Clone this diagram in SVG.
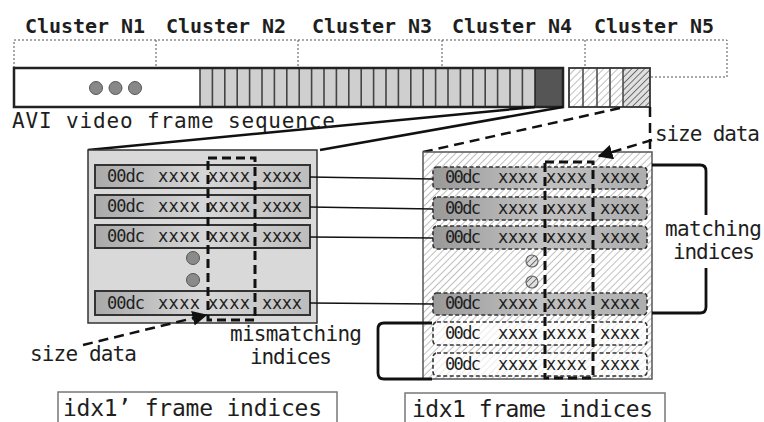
<svg xmlns="http://www.w3.org/2000/svg" width="764" height="422" viewBox="0 0 764 422">
<defs>
<pattern id="hatch" width="5" height="5" patternUnits="userSpaceOnUse" patternTransform="rotate(45)"><rect width="5" height="5" fill="#fff"/><line x1="0" y1="0" x2="0" y2="5" stroke="#aaa" stroke-width="1.5"/></pattern>
<pattern id="hatchD" width="4.5" height="4.5" patternUnits="userSpaceOnUse" patternTransform="rotate(45)"><rect width="4.5" height="4.5" fill="#e0e0e0"/><line x1="0" y1="0" x2="0" y2="4.5" stroke="#555" stroke-width="1.6"/></pattern>
<linearGradient id="rowL" x1="0" y1="0" x2="1" y2="0"><stop offset="0" stop-color="#a9a9a9"/><stop offset="0.5" stop-color="#d6d6d6"/><stop offset="1" stop-color="#bdbdbd"/></linearGradient>
<linearGradient id="rowR" x1="0" y1="0" x2="1" y2="0"><stop offset="0" stop-color="#999"/><stop offset="0.5" stop-color="#c2c2c2"/><stop offset="1" stop-color="#adadad"/></linearGradient>
<marker id="ah" viewBox="0 0 10 10" refX="9" refY="5" markerWidth="6" markerHeight="6" orient="auto"><path d="M0,0 L10,5 L0,10 z" fill="#111"/></marker>
</defs>
<style>
text{font-family:"DejaVu Sans Mono","Liberation Mono",monospace;fill:#1e1e1e}
.cl{font-size:20px;font-weight:bold}
.lbl{font-size:21px}
.big{font-size:23px}
.rt{font-size:17px}
.dot{fill:none;stroke:#555;stroke-width:1;stroke-dasharray:2,2}
.rowl{fill:url(#rowL);stroke:#333;stroke-width:2}
.rowr{fill:url(#rowR);stroke:#333;stroke-width:1.6;stroke-dasharray:4,2.5}
.roww{fill:#fff;fill-opacity:0.7;stroke:#333;stroke-width:1.6;stroke-dasharray:4,2.5}
.col{fill:none;stroke:#111;stroke-width:3;stroke-dasharray:9,5}
.ln{fill:none;stroke:#111;stroke-width:2.5}
.cn{fill:none;stroke:#111;stroke-width:1.6}
.dash{fill:none;stroke:#111;stroke-width:2.5;stroke-dasharray:10,6}
.br{fill:none;stroke:#111;stroke-width:2.8}
.box{fill:#fff;stroke:#777;stroke-width:1.5}
</style>

<g id="clusters">
<path class="dot" d="M14,68 V40 H727 V77 H650 M156,40 V68 M298,40 V68 M442,40 V68 M585,40 V68"/>
<text class="cl" x="25" y="33" textLength="120">Cluster N1</text>
<text class="cl" x="166" y="33" textLength="120">Cluster N2</text>
<text class="cl" x="312" y="33" textLength="120">Cluster N3</text>
<text class="cl" x="452" y="33" textLength="120">Cluster N4</text>
<text class="cl" x="594" y="33" textLength="120">Cluster N5</text>
</g>

<g id="avi-sequence">
<rect x="14" y="68" width="186" height="39" fill="#fff"/>
<rect x="200" y="68" width="335" height="39" fill="#cfcfcf"/>
<path d="M212.4,68V107M224.8,68V107M237.2,68V107M249.6,68V107M262,68V107M274.4,68V107M286.8,68V107M299.2,68V107M311.6,68V107M324,68V107M336.4,68V107M348.8,68V107M361.2,68V107M373.6,68V107M386,68V107M398.4,68V107M410.8,68V107M423.2,68V107M435.6,68V107M448,68V107M460.4,68V107M472.8,68V107M485.2,68V107M497.6,68V107M510,68V107M522.4,68V107" stroke="#444" stroke-width="1.6"/>
<line x1="200" y1="68" x2="200" y2="107" stroke="#444" stroke-width="1.6"/>
<rect x="535" y="68" width="28" height="39" fill="#555" stroke="#222" stroke-width="1.5"/>
<rect x="14" y="68" width="549" height="39" fill="none" stroke="#222" stroke-width="2.5"/>
<circle cx="96" cy="88" r="6.5" fill="#888" stroke="#555"/>
<circle cx="115.5" cy="88" r="6.5" fill="#888" stroke="#555"/>
<circle cx="135" cy="88" r="6.5" fill="#888" stroke="#555"/>
<rect x="569" y="68" width="54" height="39" fill="url(#hatch)"/>
<rect x="623" y="68" width="27" height="39" fill="url(#hatchD)"/>
<path d="M583,68V107M597,68V107M610,68V107M623,68V107" stroke="#444" stroke-width="1.5"/>
<rect x="569" y="68" width="81" height="39" fill="none" stroke="#333" stroke-width="1.8"/>
</g>

<g id="zoom-lines">
<line class="ln" x1="535" y1="107" x2="88" y2="150"/>
<line class="ln" x1="563" y1="107" x2="320" y2="150"/>
<line class="dash" x1="620" y1="108" x2="423" y2="152"/>
<line class="dash" x1="650" y1="107" x2="650" y2="152"/>
</g>

<text class="lbl" x="12" y="128" textLength="323">AVI video frame sequence</text>

<g id="idx1-prime-panel">
<rect x="88" y="150" width="229" height="173" fill="#d9d9d9" stroke="#333" stroke-width="1.5"/>
<rect class="rowl" x="95" y="165" width="215" height="23"/>
<rect class="rowl" x="95" y="195" width="215" height="23"/>
<rect class="rowl" x="95" y="225" width="215" height="23"/>
<rect class="rowl" x="95" y="291" width="215" height="24"/>
<text class="rt" x="107" y="182" textLength="38">00dc</text><text class="rt" x="158" y="182" textLength="42">xxxx</text><text class="rt" x="208" y="182" textLength="42">xxxx</text><text class="rt" x="262" y="182" textLength="40">xxxx</text>
<text class="rt" x="107" y="212" textLength="38">00dc</text><text class="rt" x="158" y="212" textLength="42">xxxx</text><text class="rt" x="208" y="212" textLength="42">xxxx</text><text class="rt" x="262" y="212" textLength="40">xxxx</text>
<text class="rt" x="107" y="242" textLength="38">00dc</text><text class="rt" x="158" y="242" textLength="42">xxxx</text><text class="rt" x="208" y="242" textLength="42">xxxx</text><text class="rt" x="262" y="242" textLength="40">xxxx</text>
<text class="rt" x="107" y="309" textLength="38">00dc</text><text class="rt" x="158" y="309" textLength="42">xxxx</text><text class="rt" x="208" y="309" textLength="42">xxxx</text><text class="rt" x="262" y="309" textLength="40">xxxx</text>
<circle cx="193" cy="258" r="6.5" fill="#8a8a8a" stroke="#555"/>
<circle cx="193" cy="280" r="6.5" fill="#8a8a8a" stroke="#555"/>
<rect class="col" x="208" y="158" width="47" height="162"/>
</g>

<g id="idx1-panel">
<rect x="423" y="152" width="229" height="227" fill="url(#hatch)" stroke="#555" stroke-width="1.5"/>
<rect class="rowr" x="433" y="167" width="214" height="22" rx="4"/>
<rect class="rowr" x="433" y="197" width="214" height="23" rx="4"/>
<rect class="rowr" x="433" y="226" width="214" height="23" rx="4"/>
<rect class="rowr" x="433" y="293" width="214" height="22" rx="4"/>
<rect class="roww" x="433" y="322" width="214" height="23" rx="4"/>
<rect class="roww" x="433" y="353" width="214" height="23" rx="4"/>
<text class="rt" x="445" y="183" textLength="36">00dc</text><text class="rt" x="498" y="183" textLength="40">xxxx</text><text class="rt" x="546" y="183" textLength="41">xxxx</text><text class="rt" x="600" y="183" textLength="40">xxxx</text>
<text class="rt" x="445" y="214" textLength="36">00dc</text><text class="rt" x="498" y="214" textLength="40">xxxx</text><text class="rt" x="546" y="214" textLength="41">xxxx</text><text class="rt" x="600" y="214" textLength="40">xxxx</text>
<text class="rt" x="445" y="243" textLength="36">00dc</text><text class="rt" x="498" y="243" textLength="40">xxxx</text><text class="rt" x="546" y="243" textLength="41">xxxx</text><text class="rt" x="600" y="243" textLength="40">xxxx</text>
<text class="rt" x="445" y="309" textLength="36">00dc</text><text class="rt" x="498" y="309" textLength="40">xxxx</text><text class="rt" x="546" y="309" textLength="41">xxxx</text><text class="rt" x="600" y="309" textLength="40">xxxx</text>
<text class="rt" x="445" y="339" textLength="36">00dc</text><text class="rt" x="498" y="339" textLength="40">xxxx</text><text class="rt" x="546" y="339" textLength="41">xxxx</text><text class="rt" x="600" y="339" textLength="40">xxxx</text>
<text class="rt" x="445" y="370" textLength="36">00dc</text><text class="rt" x="498" y="370" textLength="40">xxxx</text><text class="rt" x="546" y="370" textLength="41">xxxx</text><text class="rt" x="600" y="370" textLength="40">xxxx</text>
<circle cx="532" cy="261" r="6" fill="url(#hatchD)" stroke="#666" stroke-width="1.2"/>
<circle cx="532" cy="282" r="6" fill="url(#hatchD)" stroke="#666" stroke-width="1.2"/>
<rect class="col" x="545" y="162" width="48" height="216"/>
</g>

<g id="connectors">
<line class="cn" x1="310" y1="177" x2="433" y2="179"/>
<line class="cn" x1="310" y1="207" x2="433" y2="209"/>
<line class="cn" x1="310" y1="237" x2="433" y2="238"/>
<line class="cn" x1="310" y1="303" x2="433" y2="304"/>
<path class="br" d="M652,165 H700 Q706,165 706,171 V215 M706,268 V307 Q706,313 700,313 H652"/>
<path class="br" d="M432,323 H384 Q378,323 378,329 V373 Q378,379 384,379 H432"/>
<line class="dash" x1="652" y1="140" x2="599" y2="156" marker-end="url(#ah)"/>
<line class="dash" x1="83" y1="345" x2="206" y2="315" marker-end="url(#ah)"/>
</g>

<g id="labels">
<text class="lbl" x="655" y="141" textLength="105">size data</text>
<text class="lbl" x="30" y="361" textLength="107">size data</text>
<text class="lbl" x="230" y="341" textLength="132">mismatching</text>
<text class="lbl" x="250" y="364" textLength="82">indices</text>
<text class="lbl" x="665" y="236" textLength="97">matching</text>
<text class="lbl" x="673" y="259" textLength="82">indices</text>
</g>

<g id="idx1-prime-label">
<rect class="box" x="58" y="392" width="279" height="40"/>
<text class="big" x="63" y="416" textLength="259">idx1’ frame indices</text>
</g>
<g id="idx1-label">
<rect class="box" x="405" y="393" width="260" height="40"/>
<text class="big" x="412" y="417" textLength="241">idx1 frame indices</text>
</g>
</svg>
